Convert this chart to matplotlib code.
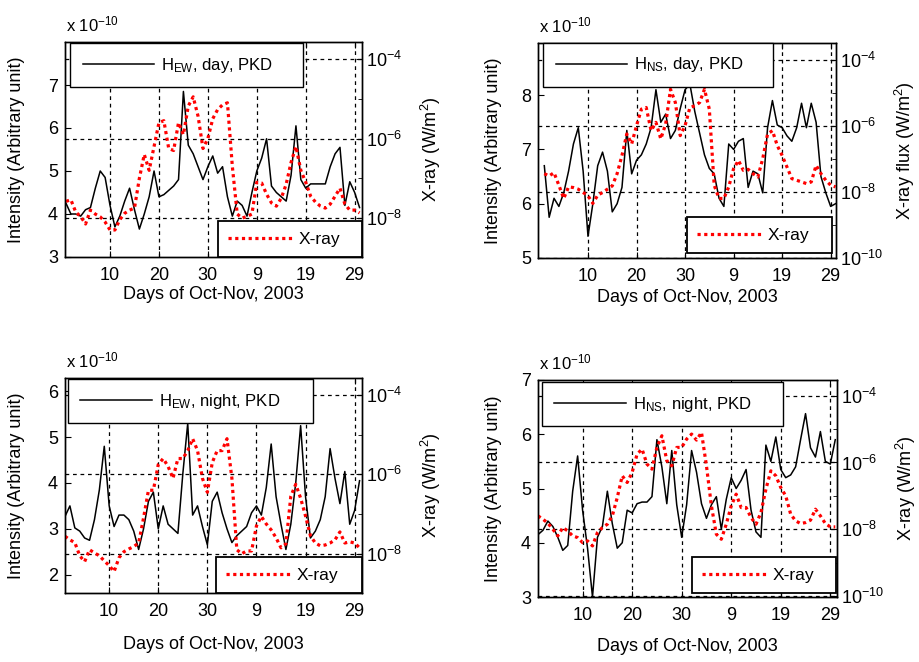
import numpy as np
import matplotlib.pyplot as plt
from matplotlib.ticker import FixedLocator, NullFormatter, LogFormatterSciNotation

plt.rcParams['font.family'] = ['Liberation Sans', 'DejaVu Sans']
plt.rcParams['mathtext.fontset'] = 'custom'
plt.rcParams['mathtext.rm'] = 'Liberation Sans'
plt.rcParams['mathtext.it'] = 'Liberation Sans:italic'
plt.rcParams['mathtext.bf'] = 'Liberation Sans:bold'

# ===== data =====
# day index: 1..31 = Oct 1..31, 32..61 = Nov 1..30
days = np.arange(1, 62)
xtick_pos = [10, 20, 30, 40, 50, 60]
xtick_labels = ['10', '20', '30', '9', '19', '29']

# H intensity, x 1e-10 (arbitrary unit)
h_ew_day = [4.25, 4.0, 4.0, 3.95, 4.1, 4.15, 4.6, 5.0, 4.85, 4.2,
            3.7, 3.95, 4.3, 4.6, 4.1, 3.65, 4.0, 4.4, 5.0, 4.4,
            4.45, 4.55, 4.65, 4.8, 6.85, 5.6, 5.4, 5.1, 4.8, 5.1,
            5.35, 4.95, 5.1, 4.4, 3.95, 4.3, 4.2, 3.95, 4.5, 5.0,
            5.3, 5.75, 4.65, 4.5, 4.4, 4.3, 4.9, 6.05, 4.8, 4.6,
            4.7, 4.7, 4.7, 4.7, 5.1, 5.4, 5.55, 4.2, 4.75, 4.5, 4.15]
h_ns_day = [6.7, 5.75, 6.1, 5.95, 6.2, 6.6, 7.1, 7.4, 6.6, 5.4,
            6.0, 6.7, 6.95, 6.6, 5.85, 6.0, 6.3, 7.35, 6.55, 6.8,
            6.9, 7.1, 7.4, 8.1, 7.5, 7.65, 7.2, 7.35, 7.75, 8.1,
            8.2, 7.7, 7.3, 6.9, 6.65, 6.55, 6.1, 5.95, 7.1, 7.0,
            7.15, 7.2, 6.3, 6.6, 6.55, 6.2, 7.4, 7.9, 7.45, 7.4,
            7.25, 7.15, 7.4, 7.85, 7.4, 7.85, 7.5, 6.5, 6.2, 5.95, 6.0]
h_ew_night = [3.27, 3.5, 3.02, 2.95, 2.8, 2.75, 3.2, 3.85, 4.8, 3.5,
              3.05, 3.3, 3.3, 3.2, 2.95, 2.55, 3.0, 3.6, 3.8, 3.0,
              3.5, 3.1, 3.0, 2.9, 4.2, 5.3, 3.3, 3.5, 3.05, 2.65,
              3.6, 3.8, 3.35, 3.0, 2.7, 2.85, 2.95, 3.05, 3.35, 3.5,
              3.3, 3.9, 4.85, 3.7, 3.1, 2.55, 3.1, 4.0, 5.25, 3.7,
              2.8, 2.95, 3.2, 3.7, 4.75, 4.1, 3.55, 4.25, 3.1, 3.4, 4.05]
h_ns_night = [4.15, 4.23, 4.4, 4.3, 4.1, 3.86, 3.95, 4.95, 5.6, 4.6,
              3.9, 3.0, 4.1, 4.3, 4.95, 4.35, 3.9, 4.0, 4.6, 4.55,
              4.72, 4.75, 4.75, 4.85, 5.9, 5.4, 4.72, 5.7, 4.7, 4.1,
              4.7, 5.7, 5.3, 4.72, 4.45, 4.7, 4.85, 4.25, 4.8, 5.2,
              5.0, 5.15, 5.35, 4.6, 4.2, 4.1, 5.8, 5.5, 5.95, 5.35,
              5.2, 5.25, 5.4, 5.9, 6.38, 5.75, 5.58, 6.05, 5.5, 5.45, 5.9]

# X-ray flux, log10(W/m^2)
xray_ew_day = [-7.58, -7.54, -7.85, -7.96, -8.15, -7.8, -7.9, -7.97, -8.1, -8.3,
               -8.3, -8.04, -7.88, -7.8, -7.75, -7.0, -6.4, -6.8, -6.2, -5.6,
               -5.55, -6.25, -6.3, -5.6, -5.9, -5.18, -4.95, -5.44, -6.25, -6.0,
               -5.5, -5.27, -5.15, -5.1, -6.7, -7.9, -8.0, -7.96, -7.9, -7.1,
               -7.12, -7.4, -7.62, -7.7, -7.5, -7.15, -6.6, -6.2, -6.8, -7.1,
               -7.45, -7.6, -7.7, -7.75, -7.65, -7.45, -7.25, -7.65, -7.8, -7.8, -7.87]
xray_ns_day = [-7.45, -7.52, -7.42, -7.8, -8.2, -7.85, -7.87, -7.92, -8.02, -8.12,
               -8.35, -8.1, -8.02, -7.92, -7.82, -7.45, -6.9, -6.25, -6.55, -6.0,
               -5.5, -5.45, -6.15, -5.9, -6.4, -5.95, -4.9, -5.3, -6.3, -6.0,
               -5.45, -5.4, -5.3, -4.9, -5.5, -7.8, -8.2, -8.2, -7.85, -7.3,
               -7.05, -7.35, -7.32, -7.45, -7.55, -7.0, -6.25, -6.15, -6.6, -6.9,
               -7.25, -7.6, -7.65, -7.7, -7.75, -7.7, -7.2, -7.45, -7.65, -7.8, -7.85]
xray_ew_night = [-7.56, -7.65, -7.72, -8.05, -8.2, -7.9, -7.98, -8.05, -8.18, -8.3,
                 -8.45, -8.1, -7.95, -7.88, -7.82, -7.73, -7.1, -6.4, -6.4, -5.75,
                 -5.6, -5.8, -6.1, -5.6, -5.6, -5.4, -5.1, -5.4, -6.1, -6.45,
                 -5.7, -5.4, -5.4, -5.1, -6.1, -7.9, -8.0, -7.93, -7.93, -7.3,
                 -7.06, -7.25, -7.4, -7.6, -7.85, -7.75, -6.55, -6.25, -6.6, -7.05,
                 -7.55, -7.73, -7.8, -7.78, -7.73, -7.65, -7.45, -7.73, -7.7, -7.73, -7.85]
xray_ns_night = [-7.6, -7.7, -7.82, -8.0, -8.2, -7.95, -8.05, -8.2, -8.25, -8.4,
                 -8.35, -8.5, -8.1, -7.95, -7.85, -7.6, -7.05, -6.4, -6.6, -6.3,
                 -5.75, -5.6, -6.05, -6.2, -5.55, -5.2, -5.95, -6.1, -5.55, -5.55,
                 -5.3, -5.15, -5.33, -5.1, -6.1, -7.3, -8.15, -8.3, -7.85, -7.3,
                 -6.95, -7.35, -7.35, -7.65, -7.85, -7.5, -6.8, -6.25, -6.4, -6.75,
                 -7.0, -7.55, -7.75, -7.83, -7.8, -7.73, -7.4, -7.6, -7.83, -7.93, -7.93]

W, H = 919, 662
fig = plt.figure(figsize=(W / 100, H / 100), dpi=100)


def px_rect(l, r, t, b):
    return [l / W, 1 - b / H, (r - l) / W, (b - t) / H]


GRID = dict(color='k', linestyle=(0, (3, 3)), linewidth=0.9)


def draw_panel(rect, h_vals, xray_log, h_label, xr_ylabel, xlim, ylim, yticks,
               xr_lim, xr_ticks, leg1_box, leg2_box, xlabel_y, ylabel_x):
    ax = fig.add_axes(px_rect(*rect))
    ax2 = ax.twinx()

    line_h, = ax.plot(days, h_vals, color='k', linewidth=1.1)
    line_x, = ax2.plot(days, 10.0 ** np.array(xray_log), color='red',
                       linewidth=2.3, linestyle=(0, (1, 1.1)), dash_capstyle='butt')

    ax.set_xlim(*xlim)
    ax.set_ylim(*ylim)
    ax.set_yticks(yticks)
    ax.set_xticks(xtick_pos)
    ax.set_xticklabels(xtick_labels)
    ax.grid(True, axis='x', **GRID)

    ax2.set_yscale('log')
    ax2.set_ylim(10.0 ** xr_lim[0], 10.0 ** xr_lim[1])
    ax2.yaxis.set_major_locator(FixedLocator([10.0 ** e for e in xr_ticks]))
    ax2.yaxis.set_major_formatter(LogFormatterSciNotation())
    minors = [10.0 ** (e + 1) for e in xr_ticks if e + 1 < xr_lim[1]]
    ax2.yaxis.set_minor_locator(FixedLocator(minors))
    ax2.yaxis.set_minor_formatter(NullFormatter())
    ax2.grid(True, axis='y', which='major', **GRID)

    ax.tick_params(direction='in', length=4, labelsize=13, top=True, pad=5)
    ax.tick_params(axis='x', pad=7)
    ax2.tick_params(direction='in', length=4, labelsize=13, pad=3)
    ax2.tick_params(which='minor', direction='in', length=3)
    for a in (ax, ax2):
        for s in a.spines.values():
            s.set_linewidth(1.0)

    ax.set_ylabel('Intensity (Arbitrary unit)', fontsize=13)
    ax.yaxis.set_label_coords(ylabel_x, 0.5)
    ax.set_xlabel('Days of Oct-Nov, 2003', fontsize=13)
    ax.xaxis.set_label_coords(0.5, xlabel_y)
    ax2.set_ylabel(xr_ylabel, fontsize=13)
    ax2.yaxis.set_label_coords(1.19, 0.5)

    ax.text(0.005, 1.035, r'x 10$^{-10}$', transform=ax.transAxes,
            fontsize=12, ha='left', va='bottom')

    # legends (both on the top axes so they cover the lines)
    leg1 = ax2.legend([line_h], [h_label], loc='upper left', mode='expand',
                      bbox_to_anchor=leg1_box, fontsize=12, handlelength=4.3,
                      handletextpad=0.4, borderpad=0.75, borderaxespad=0,
                      fancybox=False, framealpha=1, edgecolor='k')
    leg1.get_frame().set_linewidth(1.0)
    ax2.add_artist(leg1)
    leg2 = ax2.legend([line_x], ['X-ray'], loc='lower left', mode='expand',
                      bbox_to_anchor=leg2_box, fontsize=12.5, handlelength=3.7,
                      handletextpad=0.35, borderpad=0.6, borderaxespad=0,
                      fancybox=False, framealpha=1, edgecolor='k')
    leg2.get_frame().set_linewidth(1.3)
    return ax, ax2


# (left, right, top, bottom) in pixels
draw_panel((65, 362, 42, 257), h_ew_day, xray_ew_day, r'H$_{\mathrm{EW}}$, day, PKD',
           r'X-ray (W/m$^2$)', (0.8, 61.5), (3, 8.0), [3, 4, 5, 6, 7],
           (-8.98, -3.57), [-8, -6, -4],
           (0.017, 0.0, 0.783, 0.995), (0.515, 0.0, 0.485, 0.2), -0.135, -0.135)
draw_panel((538, 836, 43, 258), h_ns_day, xray_ns_day, r'H$_{\mathrm{NS}}$, day, PKD',
           r'X-ray flux (W/m$^2$)', (-0.3, 61.1), (5, 8.96), [5, 6, 7, 8],
           (-10.0, -3.5), [-10, -8, -6, -4],
           (0.017, 0.0, 0.772, 1.0), (0.5, 0.023, 0.487, 0.2), -0.144, -0.122)
draw_panel((65, 362, 378, 593), h_ew_night, xray_ew_night, r'H$_{\mathrm{EW}}$, night, PKD',
           r'X-ray (W/m$^2$)', (1.0, 61.5), (1.6, 6.29), [2, 3, 4, 5, 6],
           (-8.99, -3.57), [-8, -6, -4],
           (0.01, 0.0, 0.825, 0.995), (0.508, 0.0, 0.492, 0.2), -0.2, -0.135)
draw_panel((538, 837, 380, 597), h_ns_night, xray_ns_night, r'H$_{\mathrm{NS}}$, night, PKD',
           r'X-ray (W/m$^2$)', (1.0, 61.35), (3, 7), [3, 4, 5, 6, 7],
           (-10.03, -3.53), [-10, -8, -6, -4],
           (0.013, 0.0, 0.806, 0.99), (0.515, 0.018, 0.482, 0.2), -0.189, -0.122)

fig.savefig('out.png', dpi=100)
